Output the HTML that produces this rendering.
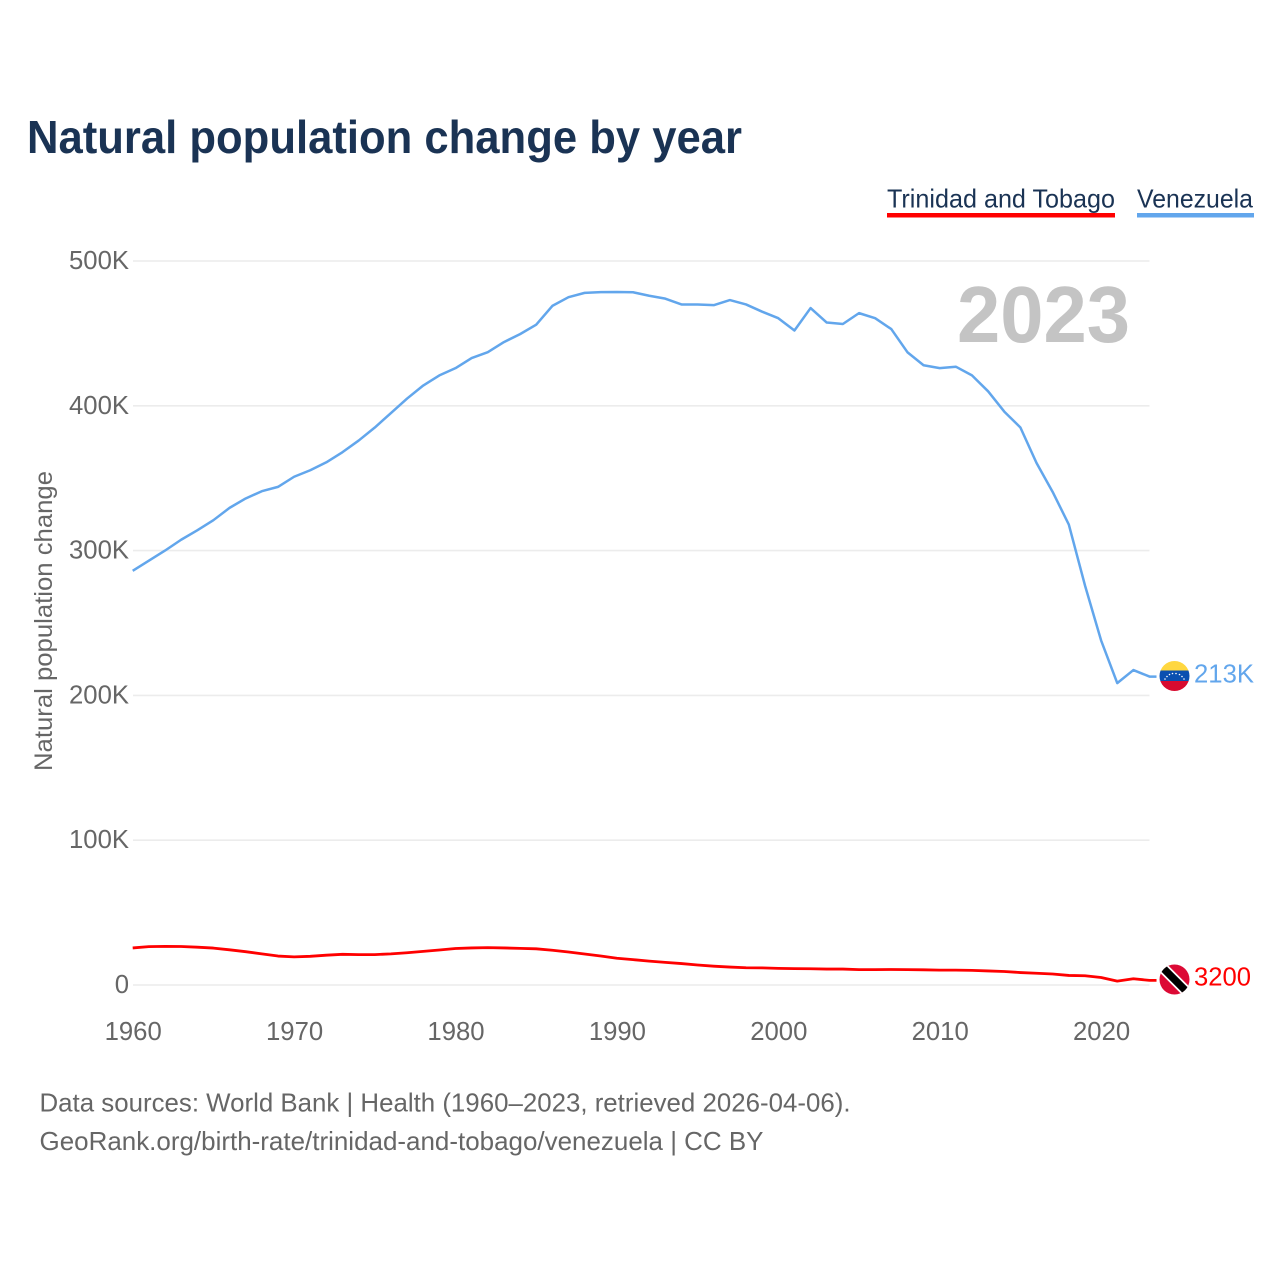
<!DOCTYPE html>
<html lang="en">
<head>
<meta charset="utf-8">
<title>Natural population change by year</title>
<style>
html,body{margin:0;padding:0;background:#fff;}
svg{display:block;font-family:"Liberation Sans",sans-serif;}
</style>
</head>
<body>
<svg id="chart" width="1280" height="1280" viewBox="0 0 1280 1280" xmlns="http://www.w3.org/2000/svg">
  <defs>
    <clipPath id="clip-ve"><circle cx="1174.5" cy="676" r="15"/></clipPath>
    <clipPath id="clip-tt"><circle cx="1174.5" cy="979.5" r="15"/></clipPath>
  </defs>
  <text x="27" y="153" font-size="46" font-weight="700" fill="#1a3354" textLength="715" lengthAdjust="spacingAndGlyphs">Natural population change by year</text>

  <g>
    <text x="887" y="207.5" font-size="26" fill="#1a3354" textLength="228" lengthAdjust="spacingAndGlyphs">Trinidad and Tobago</text>
    <rect x="887" y="213" width="228" height="4.5" fill="#ff0000"/>
  </g>
  <g>
    <text x="1137" y="207.5" font-size="26" fill="#1a3354" textLength="116" lengthAdjust="spacingAndGlyphs">Venezuela</text>
    <rect x="1137" y="213" width="117" height="4.5" fill="#62a6ec"/>
  </g>

  <text transform="translate(52,771) rotate(-90)" font-size="25" fill="#666666" textLength="300" lengthAdjust="spacingAndGlyphs">Natural population change</text>

  <g id="grid"></g>
  <g id="yticks"></g>
  <g id="xticks"></g>

  <text x="957" y="342" font-size="80" font-weight="700" fill="#c4c4c4" textLength="173" lengthAdjust="spacingAndGlyphs">2023</text>

  <g id="series"></g>

  <g clip-path="url(#clip-ve)">
    <rect x="1159" y="660" width="31" height="11" fill="#ffd740"/>
    <rect x="1159" y="670.5" width="31" height="11" fill="#0a4fb0"/>
    <rect x="1159" y="681" width="31" height="11" fill="#d80b2f"/>
    <g fill="#ffffff">
      <circle cx="1165" cy="679" r="0.8"/><circle cx="1167" cy="676.5" r="0.8"/><circle cx="1169.5" cy="674.5" r="0.8"/><circle cx="1172.5" cy="673.5" r="0.8"/><circle cx="1176" cy="673.5" r="0.8"/><circle cx="1179.5" cy="674.5" r="0.8"/><circle cx="1182" cy="676.5" r="0.8"/><circle cx="1184" cy="679" r="0.8"/>
    </g>
  </g>
  <text id="label-ve" x="1194" y="682.5" font-size="26" fill="#62a6ec" textLength="60" lengthAdjust="spacingAndGlyphs">213K</text>

  <g clip-path="url(#clip-tt)">
    <rect x="1159" y="964" width="31" height="31" fill="#dc0a35"/>
    <line x1="1160" y1="965" x2="1189" y2="994" stroke="#ffffff" stroke-width="11"/>
    <line x1="1160" y1="965" x2="1189" y2="994" stroke="#000000" stroke-width="7.5"/>
  </g>
  <text id="label-tt" x="1194" y="985.5" font-size="26" fill="#ff0000" textLength="57" lengthAdjust="spacingAndGlyphs">3200</text>

  <text x="39.5" y="1111.5" font-size="26" fill="#666666" textLength="811" lengthAdjust="spacingAndGlyphs">Data sources: World Bank | Health (1960–2023, retrieved 2026-04-06).</text>
  <text x="39.5" y="1150" font-size="26" fill="#666666" textLength="724" lengthAdjust="spacingAndGlyphs">GeoRank.org/birth-rate/trinidad-and-tobago/venezuela | CC BY</text>
</svg>
<script>
const firstYear = 1960;
const venezuela = [286,293,300,307.5,314,321,329.5,336,341,344,351,355.5,361,368,376,385,395,405,414,421,426,433,437,444,449.5,456,469,475,478,478.5,478.6,478.4,476,474,470,470,469.5,473,470,465,460.5,452,467.5,457.5,456.5,464,460.5,453,437,428,426,427,421,410,396,385,360.5,340.5,318,276,238,208.5,217.5,213];
const trinidad = [25.6,26.5,26.7,26.6,26.1,25.5,24.3,23,21.5,20,19.4,19.8,20.6,21.2,21,21,21.5,22.3,23.2,24.2,25.2,25.6,25.8,25.6,25.3,25,24,22.8,21.4,20,18.5,17.5,16.5,15.6,14.8,13.8,13,12.4,11.9,11.8,11.5,11.3,11.2,11,11,10.6,10.6,10.7,10.6,10.5,10.3,10.3,10.1,9.7,9.3,8.6,8.1,7.6,6.6,6.4,5.2,2.7,4.3,3.2];
const yTicks = [0,100,200,300,400,500];
const yTickLabels = ['0','100K','200K','300K','400K','500K'];
const xTicks = [1960,1970,1980,1990,2000,2010,2020];

const NS = 'http://www.w3.org/2000/svg';
function xScale(year){ return 132.7 + (year - 1960) * 16.14; }
function yScale(v){ return 985 - v * 1.448; }

const gridGroup = document.getElementById('grid');
const yGroup = document.getElementById('yticks');
const xGroup = document.getElementById('xticks');
const seriesGroup = document.getElementById('series');

yTicks.forEach(function(v, i){
  const ln = document.createElementNS(NS, 'line');
  
  
  ln.setAttribute('x1', 133);
  ln.setAttribute('x2', xScale(2023));
  ln.setAttribute('y1', yScale(v));
  ln.setAttribute('y2', yScale(v));
  ln.setAttribute('stroke', '#ececec');
  ln.setAttribute('stroke-width', '1.6');
  gridGroup.appendChild(ln);

  const t = document.createElementNS(NS, 'text');
  
  
  t.setAttribute('x', 129);
  t.setAttribute('y', yScale(v) + 8);
  t.setAttribute('text-anchor', 'end');
  t.setAttribute('font-size', '25.7');
  t.setAttribute('fill', '#666666');
  t.textContent = yTickLabels[i];
  yGroup.appendChild(t);
});

xTicks.forEach(function(y){
  const t = document.createElementNS(NS, 'text');
  
  
  t.setAttribute('x', xScale(y) + 0.5);
  t.setAttribute('y', 1040);
  t.setAttribute('text-anchor', 'middle');
  t.setAttribute('font-size', '25.7');
  t.setAttribute('fill', '#666666');
  t.textContent = String(y);
  xGroup.appendChild(t);
});

function drawSeries(values, color, width, name){
  const pts = values.map(function(v, i){
    return xScale(firstYear + i).toFixed(2) + ',' + yScale(v).toFixed(2);
  });
  pts.push((xScale(firstYear + values.length - 1) + 7).toFixed(2) + ',' + yScale(values[values.length - 1]).toFixed(2));
  const p = document.createElementNS(NS, 'polyline');
  
  
  p.setAttribute('points', pts.join(' '));
  p.setAttribute('fill', 'none');
  p.setAttribute('stroke', color);
  p.setAttribute('stroke-width', width);
  p.setAttribute('stroke-linejoin', 'round');
  seriesGroup.appendChild(p);
}
drawSeries(venezuela, '#62a6ec', 2.5, 'line-venezuela');
drawSeries(trinidad, '#ff0000', 2.8, 'line-trinidad');
</script>
</body>
</html>
